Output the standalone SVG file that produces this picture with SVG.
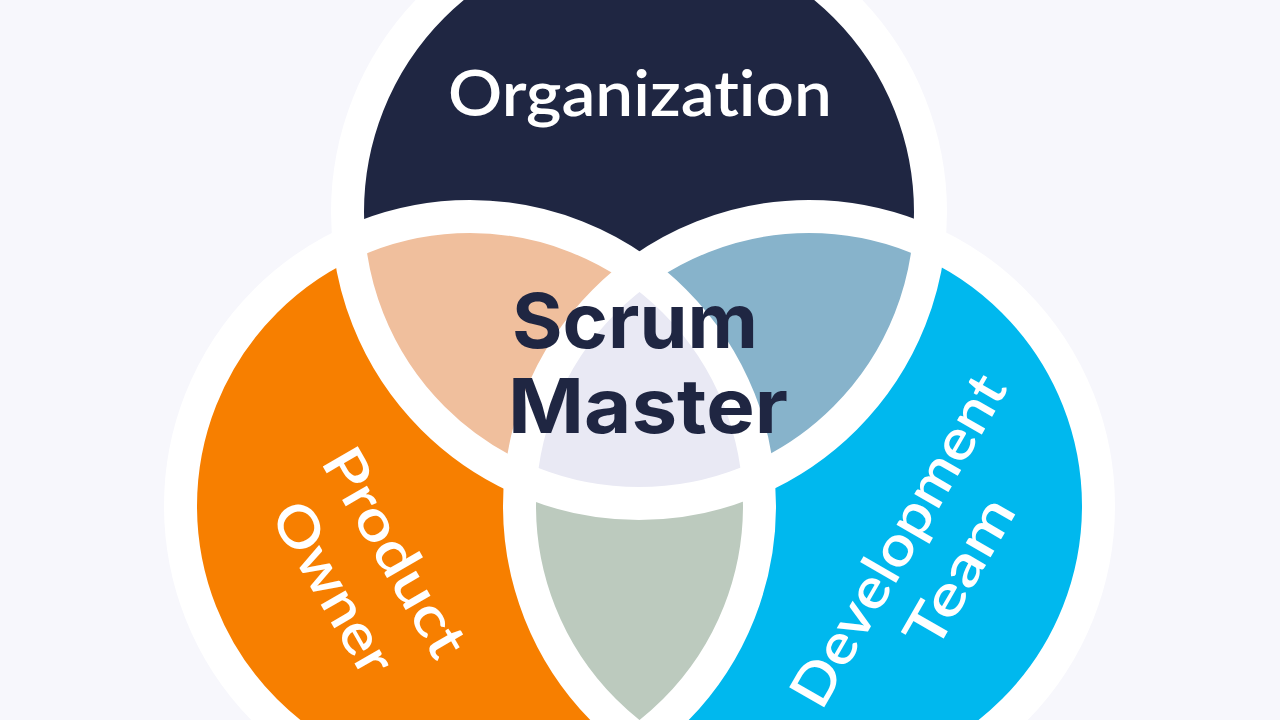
<svg xmlns="http://www.w3.org/2000/svg" width="1280" height="720" viewBox="0 0 1280 720">
  <style>
    .ring { fill: none; stroke: #ffffff; stroke-width: 33; }
    .lbl { font-family: "Lato", "Inter", "Liberation Sans", sans-serif; font-weight: 600; text-anchor: middle; font-variant-ligatures: none; }
    .bold { font-family: "Inter", "Open Sans", "Liberation Sans", sans-serif; font-weight: 700; }
    .white { fill: #ffffff; }
    .navy { fill: #1f2642; }
  </style>
  <defs>
    <clipPath id="clipTop"><circle cx="639" cy="212" r="291.5"/></clipPath>
    <clipPath id="clipLeft"><circle cx="470" cy="506" r="289.5"/></clipPath>
    <clipPath id="clipRight"><circle cx="809" cy="506" r="289.5"/></clipPath>
  </defs>

  <rect x="0" y="0" width="1280" height="720" fill="#f7f7fc"/>

  <g id="organization">
    <circle cx="639" cy="212" r="291.5" fill="#1f2642"/>
  </g>
  <g id="product-owner">
    <circle cx="470" cy="506" r="289.5" fill="#f77f00"/>
  </g>
  <g id="development-team">
    <circle cx="809" cy="506" r="289.5" fill="#00b8ee"/>
  </g>
  <g id="overlap-org-po">
    <circle cx="470" cy="506" r="289.5" fill="#f0bf9d" clip-path="url(#clipTop)"/>
  </g>
  <g id="overlap-org-dev">
    <circle cx="809" cy="506" r="289.5" fill="#87b3cb" clip-path="url(#clipTop)"/>
  </g>
  <g id="overlap-po-dev">
    <circle cx="470" cy="506" r="289.5" fill="#bccabe" clip-path="url(#clipRight)"/>
  </g>
  <g id="scrum-master">
    <g clip-path="url(#clipTop)">
      <circle cx="470" cy="506" r="289.5" fill="#e9e9f4" clip-path="url(#clipRight)"/>
    </g>
  </g>

  <g id="outlines">
    <circle class="ring" cx="639" cy="212" r="291.5"/>
    <circle class="ring" cx="470" cy="506" r="289.5"/>
    <circle class="ring" cx="809" cy="506" r="289.5"/>
  </g>

  <g id="labels">
    <text class="lbl white" x="640" y="116" font-size="64" font-weight="500" textLength="384" lengthAdjust="spacingAndGlyphs">Organization</text>
    <text class="lbl bold navy" x="635" y="348" font-size="76" textLength="246" lengthAdjust="spacingAndGlyphs">Scrum</text>
    <text class="lbl bold navy" x="648" y="433" font-size="76" textLength="280" lengthAdjust="spacingAndGlyphs">Master</text>
    <g transform="translate(378,562) rotate(60)">
      <text class="lbl white" x="0" y="0" font-size="56" textLength="232" lengthAdjust="spacingAndGlyphs">Product</text>
      <text class="lbl white" x="0" y="71" font-size="56" textLength="190" lengthAdjust="spacingAndGlyphs">Owner</text>
    </g>
    <g transform="translate(915,550) rotate(-60)">
      <text class="lbl white" x="0" y="0" font-size="56" textLength="374" lengthAdjust="spacingAndGlyphs">Development</text>
      <text class="lbl white" x="3" y="69" font-size="56" textLength="164" lengthAdjust="spacingAndGlyphs">Team</text>
    </g>
  </g>
</svg>
